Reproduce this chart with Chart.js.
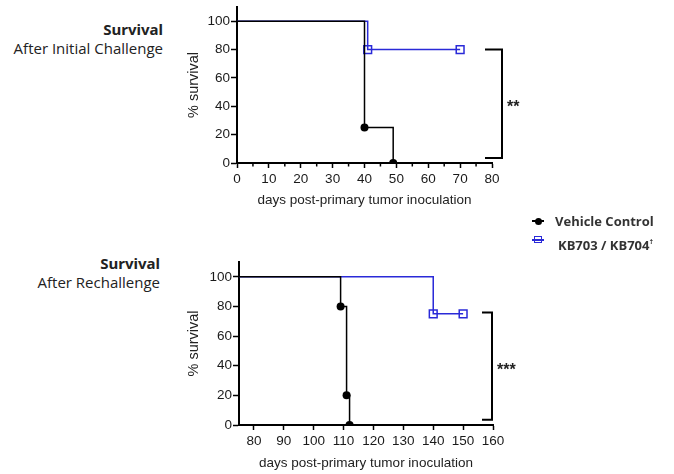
<!DOCTYPE html>
<html>
<head>
<meta charset="utf-8">
<script src="https://cdn.jsdelivr.net/npm/chart.js@4.4.1/dist/chart.umd.min.js"></script>
<style>
  html, body { margin:0; padding:0; background:#fff; }
  body { width:674px; height:474px; position:relative; overflow:hidden; font-family:"Open Sans", sans-serif; color:#222; }
  canvas { position:absolute; left:0; }
  .ttl { position:absolute; text-align:right; font-size:15px; line-height:19px; white-space:nowrap; color:#222; }
  .ttl b { font-family:"Noto Sans", sans-serif; font-weight:700; }
  .leg { position:absolute; font-size:13px; font-weight:700; line-height:18px; white-space:nowrap; color:#333; }
  .lline { position:absolute; height:2px; width:12px; }
</style>
</head>
<body>
<div class="ttl" style="right:511px; top:20px;"><b>Survival</b><br>After Initial Challenge</div>
<div class="ttl" style="right:514px; top:254px;"><b>Survival</b><br>After Rechallenge</div>

<canvas id="top" width="674" height="211" style="top:0"></canvas>
<canvas id="bot" width="674" height="237" style="top:237px"></canvas>

<div class="lline" style="left:532px; top:220px; background:#000;"></div>
<div style="position:absolute; left:535px; top:218px; width:7px; height:7px; border-radius:50%; background:#000;"></div>
<div class="leg" style="left:555px; top:212px;">Vehicle Control</div>
<div class="lline" style="left:532px; top:239px; background:#2a2ad8; height:1.5px;"></div>
<div style="position:absolute; left:534px; top:236px; width:6px; height:5px; border:1.5px solid #2a2ad8; background:transparent;"></div>
<div class="leg" style="left:558px; top:233px;">KB703 / KB704<sup style="font-size:7px; vertical-align:6px;">†</sup></div>

<script>
// ---- data ----
const topVehicleDays = [0, 40, 49];
const topVehicleSurv = [100, 25, 0];
const topKbDays = [0, 41, 70];
const topKbSurv = [100, 80, 80];

const botVehicleDays = [75, 109, 111, 112];
const botVehicleSurv = [100, 80, 20, 0];
const botKbDays = [75, 140, 150];
const botKbSurv = [100, 75, 75];

const yTickValues = [0, 20, 40, 60, 80, 100];
const topXTickValues = [0, 10, 20, 30, 40, 50, 60, 70, 80];
const topXMinorTicks = [5, 15, 25, 35, 45, 55, 65, 75];
const botXTickValues = [80, 90, 100, 110, 120, 130, 140, 150, 160];

const topSignif = '**';
const botSignif = '***';

const BLUE = '#2a2ad8';
const tickFont = { family: '"Liberation Sans", Arial, sans-serif', size: 13.5 };
const xTitleFont = { family: '"Liberation Sans", Arial, sans-serif', size: 13.5 };
const yTitleFont = { family: '"Liberation Sans", Arial, sans-serif', size: 14.5 };

function pts(xs, ys) { return xs.map((x, i) => ({ x: x, y: ys[i] })); }
function radii(n, r) { return Array.from({ length: n }, (_, i) => i === 0 ? 0 : r); }

const bracketPlugin = {
  id: 'bracket',
  afterDraw(chart, args, opts) {
    const ctx = chart.ctx, ys = chart.scales.y, xs = chart.scales.x;
    const ca = chart.chartArea;
    if (opts.minor) {
      ctx.save();
      ctx.strokeStyle = '#000'; ctx.lineWidth = 1.5;
      opts.minor.forEach(v => {
        const px = xs.getPixelForValue(v);
        ctx.beginPath(); ctx.moveTo(px, ca.bottom); ctx.lineTo(px, ca.bottom + 3.5); ctx.stroke();
      });
      ctx.restore();
    }
    const y1 = ys.getPixelForValue(opts.y1), y2 = ys.getPixelForValue(opts.y2);
    const xv = ca.right + opts.dx, xl = ca.right + opts.dl;
    ctx.save();
    ctx.strokeStyle = '#000'; ctx.lineWidth = 2;
    ctx.beginPath();
    ctx.moveTo(xl, y1); ctx.lineTo(xv, y1); ctx.lineTo(xv, y2); ctx.lineTo(xl, y2);
    ctx.stroke();
    ctx.fillStyle = '#222';
    ctx.font = 'bold 16px "Liberation Sans", Arial, sans-serif';
    ctx.textAlign = 'left'; ctx.textBaseline = 'middle';
    ctx.fillText(opts.text, xv + 5, (y1 + y2) / 2 + 4);
    ctx.restore();
  }
};

function makeChart(id, cfg) {
  return new Chart(document.getElementById(id), {
    type: 'line',
    data: {
      datasets: [
        {
          data: pts(cfg.vDays, cfg.vSurv), stepped: true,
          borderColor: '#000', borderWidth: 1.5,
          pointRadius: radii(cfg.vDays.length, 4), pointHoverRadius: 0, pointBorderWidth: 0,
          pointBackgroundColor: '#000', pointBorderColor: '#000', pointStyle: 'circle'
        },
        {
          data: pts(cfg.kDays, cfg.kSurv), stepped: true,
          borderColor: BLUE, borderWidth: 1.5,
          pointRadius: radii(cfg.kDays.length, 5.5), pointHoverRadius: 0,
          pointBackgroundColor: 'rgba(255,255,255,0)', pointBorderColor: BLUE, pointBorderWidth: 1.5,
          pointStyle: 'rect'
        }
      ]
    },
    options: {
      responsive: false, animation: false, devicePixelRatio: 1,
      layout: { padding: cfg.pad },
      plugins: { legend: { display: false }, tooltip: { enabled: false },
        bracket: cfg.bracket },
      scales: {
        x: {
          type: 'linear', min: cfg.xMin, max: cfg.xMax,
          afterBuildTicks: s => { s.ticks = cfg.xTicks.map(v => ({ value: v })); },
          afterFit: s => { s.height = cfg.xH; s.paddingLeft = 0; s.paddingRight = 0; },
          ticks: { autoSkip: false, maxRotation: 0, color: '#1a1a1a', font: tickFont, padding: 3 },
          grid: { drawOnChartArea: false, drawTicks: true, tickLength: 5, tickColor: '#000', tickWidth: 1.5 },
          border: { display: true, color: '#000', width: 2 },
          title: { display: true, text: 'days post-primary tumor inoculation', color: '#222', font: xTitleFont, padding: { top: 0, bottom: 3 } }
        },
        y: {
          type: 'linear', min: 0, max: 110,
          afterBuildTicks: s => { s.ticks = yTickValues.map(v => ({ value: v })); },
          afterFit: s => { s.width = cfg.yW; s.paddingTop = 0; s.paddingBottom = 0; },
          ticks: { autoSkip: false, color: '#1a1a1a', font: tickFont, padding: 1 },
          grid: { drawOnChartArea: false, drawTicks: true, tickLength: 6, tickColor: '#000', tickWidth: 1.5 },
          border: { display: true, color: '#000', width: 2 },
          title: { display: true, text: '% survival', color: '#222', font: yTitleFont, padding: { top: 0, bottom: 0 } }
        }
      }
    },
    plugins: [bracketPlugin]
  });
}

makeChart('top', {
  vDays: topVehicleDays, vSurv: topVehicleSurv, kDays: topKbDays, kSurv: topKbSurv,
  xMin: 0, xMax: 80, xTicks: topXTickValues,
  pad: { left: 185, right: 182, top: 5, bottom: 0 }, yW: 52, xH: 48,
  bracket: { y1: 80, y2: 3.5, dx: 10, dl: -7, text: topSignif, minor: topXMinorTicks }
});
makeChart('bot', {
  vDays: botVehicleDays, vSurv: botVehicleSurv, kDays: botKbDays, kSurv: botKbSurv,
  xMin: 75, xMax: 160, xTicks: botXTickValues,
  pad: { left: 185, right: 181, top: 25, bottom: 0 }, yW: 54, xH: 49,
  bracket: { y1: 76, y2: 3.5, dx: -1, dl: -11, text: botSignif }
});
</script>
</body>
</html>
